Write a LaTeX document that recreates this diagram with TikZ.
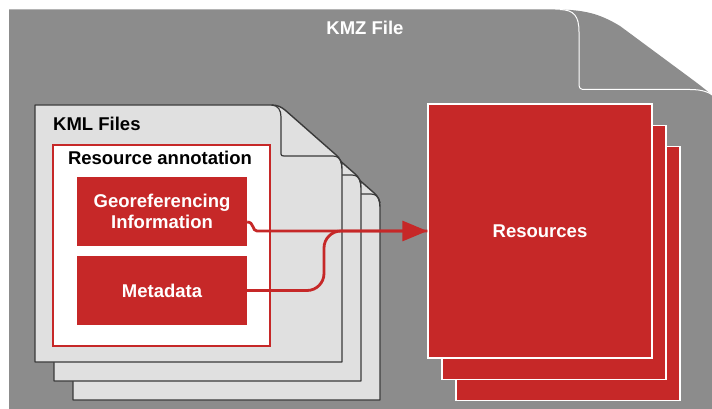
\documentclass[tikz,border=0pt]{standalone}
\usepackage{fontspec}
\setmainfont{Liberation Sans}
\usetikzlibrary{arrows.meta,calc}
\definecolor{kmzgray}{HTML}{8C8C8C}
\definecolor{pagegray}{HTML}{E0E0E0}
\definecolor{edgegray}{HTML}{3A3A3A}
\definecolor{kred}{HTML}{C62828}

\tikzset{
  kmlpage/.pic={
    % sheet with a dog-eared top right corner
    \path[page] (0,0) -- (236,0) .. controls (243,0) and (246,2) .. (250,5)
      -- (300,49) .. controls (305,53) and (307,57) .. (307,64)
      -- (307,257) -- (0,257) -- cycle;
    \draw[fold] (237,0) .. controls (243,0.5) and (246,5) .. (246,12)
      -- (246,49) .. controls (246,50.5) and (247,51) .. (249,51)
      -- (298,51) .. controls (303,51) and (306,54) .. (307,60);
  }
}

\begin{document}
\begin{tikzpicture}[x=1pt,y=-1pt,
  lbl/.style={font=\fontsize{18.5}{20.5}\selectfont\bfseries},
  page/.style={fill=pagegray,draw=edgegray,line width=1.4pt,line join=round},
  fold/.style={draw=edgegray,line width=1.2pt},
  redbox/.style={fill=kred,text=white,lbl,inner sep=0pt,align=center,
    minimum width=170pt,minimum height=69pt},
  resbox/.style={fill=kred,draw=white,line width=1.2pt,inner sep=0pt,
    minimum width=224pt,minimum height=254pt},
  flow/.style={draw=kred,line width=2.8pt}]

\useasboundingbox (0,0) rectangle (712,409);
\clip (0,0) rectangle (712,409);

% KMZ container sheet
\path[fill=kmzgray] (9,9.5) -- (555,9.5) .. controls (585,9.5) and (600,14) .. (620,26)
  -- (693,80) .. controls (705,89) and (710,93) .. (716,100)
  -- (716,412) -- (9,412) -- cycle;
\draw[white,line width=1pt] (560,9.5) .. controls (574,10) and (579,16) .. (579,32)
  -- (579,84) .. controls (579,88.5) and (580.5,89.5) .. (585,89.5)
  -- (690,89.5) .. controls (702,89.5) and (710,92) .. (716,98);
\node[lbl,text=white] (kmz) at (365,28) {KMZ File};

% KML file stack
\pic at (73,143) {kmlpage};
\pic at (54,124) {kmlpage};
\pic at (35,105) {kmlpage};
\node[lbl,anchor=west,inner sep=0pt] (kml) at (53,124) {KML Files};

% resource annotation
\node[draw=kred,fill=white,line width=1.4pt,inner sep=0pt,
  minimum width=217pt,minimum height=201pt] (ann) at (161.5,245.5) {};
\node[lbl] (annlbl) at (160,158) {Resource annotation};
\node[redbox] (geo) at (162,211.5) {Georeferencing\\Information};
\node[redbox] (meta) at (162,290.5) {Metadata};

% resources stack
\node[resbox] (res3) at (568,273.5) {};
\node[resbox] (res2) at (554,252.5) {};
\node[resbox,text=white,lbl] (res1) at (540,231) {Resources};

% connectors
\coordinate (g0) at ($(geo.east)+(0,10.5)$);
\coordinate (gbend) at (257,231);
\coordinate (mbend) at (324,231);
\draw[flow,rounded corners=17pt] (meta.east) -| (mbend) -- (res1.west);
\draw[flow,-{Triangle[length=25pt,width=20pt]}] (g0) .. controls +(7,0) and +(-5,0) .. (gbend) -- (res1.west);
\end{tikzpicture}
\end{document}
